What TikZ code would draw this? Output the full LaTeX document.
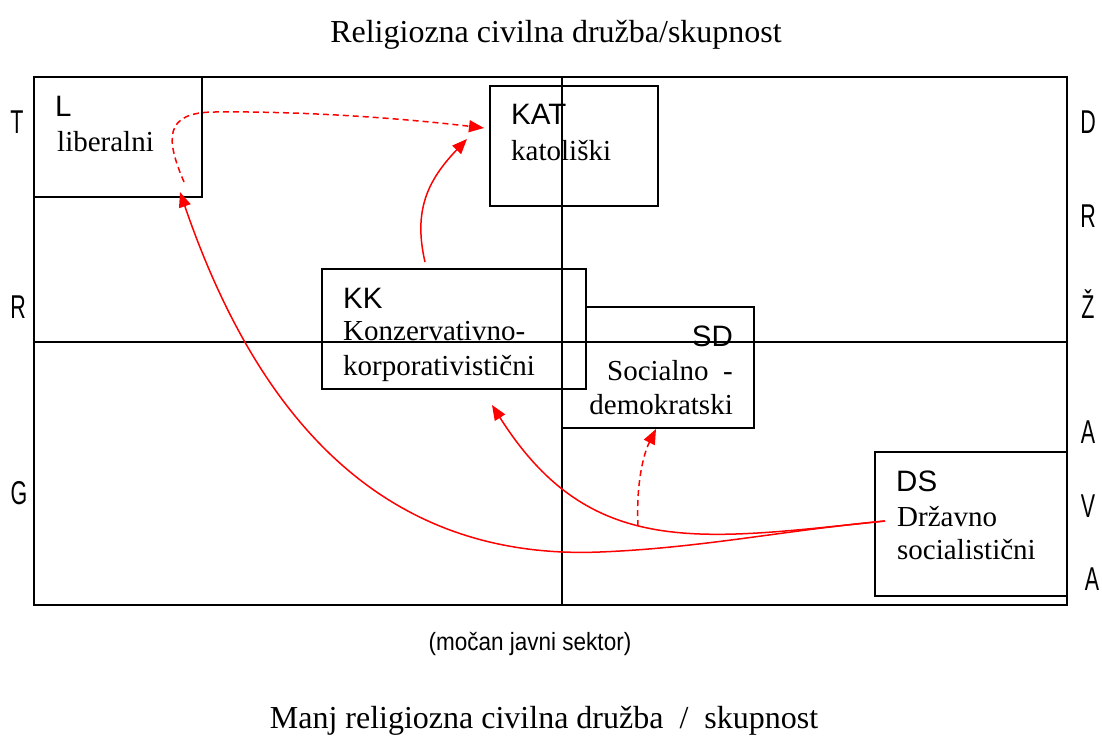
\documentclass[tikz,border=0pt]{standalone}
\usepackage{fontspec}
\usepackage{graphicx}
\setmainfont{Liberation Serif}
\newfontfamily\arialf{Liberation Sans}
\usetikzlibrary{arrows.meta}
\newcommand{\condtxt}[2]{\scalebox{#1}[1]{#2}}
\begin{document}
\begin{tikzpicture}[x=1pt,y=-1pt,
  frm/.style={draw, line width=1.8pt},
  box/.style={draw, line width=1.8pt, inner sep=0pt},
  ser/.style={font=\fontsize{29}{32}\selectfont, anchor=base west, inner sep=0pt},
  san/.style={font=\arialf\fontsize{29.5}{32}\selectfont, anchor=base west, inner sep=0pt},
  side/.style={font=\arialf\fontsize{33}{36}\selectfont, anchor=base, inner sep=0pt},
  ttl/.style={font=\fontsize{32}{34}\selectfont, anchor=base, inner sep=0pt},
  arr/.style={red, line width=1.5pt, -{Triangle[length=15pt,width=12pt]}},
  darr/.style={arr, dash pattern=on 6pt off 4pt}]
\useasboundingbox (0,0) rectangle (1102,736);

% frame and boxes
\node[frm, minimum width=1033pt, minimum height=528pt] (frame) at (550.5,341) {};
\node[box, minimum width=192pt, minimum height=121pt] (SD) at (658,367.5) {};
\node[box, fill=white, minimum width=264pt, minimum height=120pt] (KK) at (454,329) {};
\node[box, minimum width=168pt, minimum height=120pt] (L) at (118,137) {};
\node[box, minimum width=168pt, minimum height=120pt] (KAT) at (574,146) {};
\node[box, minimum width=192pt, minimum height=144pt] (DS) at (971,524) {};

% axes
\coordinate (vt) at (562,77);
\coordinate (vb) at (562,605);
\coordinate (hl) at (34,342);
\coordinate (hr) at (1067,342);
\draw[line width=1.5pt] (vt) -- (vb);
\draw[line width=1.5pt] (hl) -- (hr);

% box texts
\node[san] (Lt) at (55,116) {L};
\node[ser] (Ls) at (57,151) {liberalni};
\node[san] (KATt) at (511,124) {KAT};
\node[ser] (KATs) at (511,160) {katoliški};
\node[san] (KKt) at (343,308) {KK};
\node[ser] (KKs1) at (343,340) {Konzervativno-};
\node[ser] (KKs2) at (343,375) {korporativistični};
\node[san, anchor=base east] (SDt) at (733,346) {SD};
\node[ser, anchor=base east] (SDs1) at (733,380) {Socialno\ \ -};
\node[ser, anchor=base east] (SDs2) at (733,414) {demokratski};
\node[san] (DSt) at (896,491) {DS};
\node[ser] (DSs1) at (897,526) {Državno};
\node[ser] (DSs2) at (897,559) {socialistični};

% side letters
\node[side] (s1) at (17,133) {\condtxt{0.65}{T}};
\node[side] (s2) at (18,318) {\condtxt{0.65}{R}};
\node[side] (s3) at (19,504) {\condtxt{0.65}{G}};
\node[side] (r1) at (1088,133) {\condtxt{0.65}{D}};
\node[side] (r2) at (1088,227) {\condtxt{0.65}{R}};
\node[side] (r3) at (1088,318) {\condtxt{0.65}{Ž}};
\node[side] (r4) at (1088,443) {\condtxt{0.65}{A}};
\node[side] (r5) at (1088,517) {\condtxt{0.65}{V}};
\node[side] (r6) at (1092,590) {\condtxt{0.65}{A}};

% titles
\node[ttl] (top) at (556,42) {Religiozna civilna družba/skupnost};
\node[ttl] (bot) at (544,728) {Manj religiozna civilna družba\ \ /\ \ skupnost};
\node[font=\arialf\fontsize{25}{28}\selectfont, anchor=base, inner sep=0pt] (pub) at (530,650) {\condtxt{0.9}{(močan javni sektor)}};

% arrows
\coordinate (dsout) at (885,521);
\coordinate (ltip) at (180,192);
\coordinate (kktip) at (492,405);
\coordinate (kattip) at (467,139);
\coordinate (kkout) at (425,262);
\coordinate (lout) at (184,182);
\coordinate (kattip2) at (484,128);
\coordinate (sdin) at (638,526);
\coordinate (sdtip) at (656,429);

\draw[arr] (dsout) .. controls (780,531) and (700,548) .. (600,552)
  .. controls (400,560) and (265,440) .. (ltip);
\draw[arr] (dsout) .. controls (700,540) and (590,560) .. (kktip);
\draw[arr] (kkout) .. controls (413,210) and (428,180) .. (kattip);
\draw[darr] (lout) .. controls (166,140) and (163,112) .. (215,112)
  .. controls (300,111) and (400,118) .. (kattip2);
\draw[darr] (sdin) .. controls (636,485) and (643,455) .. (sdtip);
\end{tikzpicture}
\end{document}
